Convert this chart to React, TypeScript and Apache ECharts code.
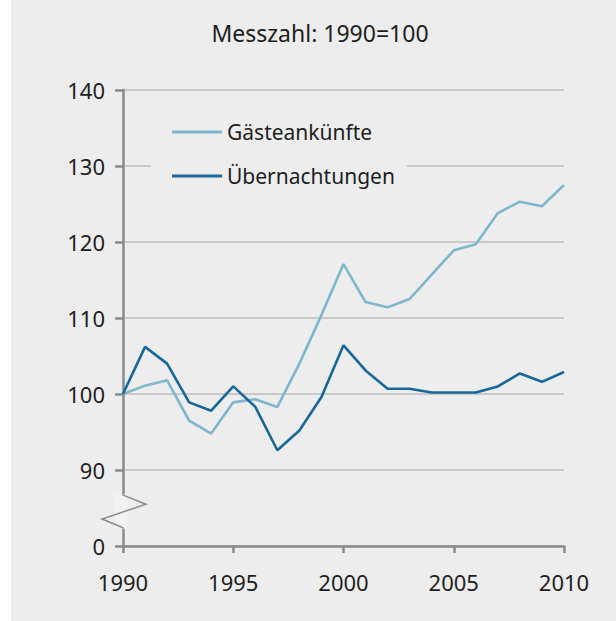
import React, { useEffect, useRef } from "react";
import * as echarts from "echarts";

const titleText = "Messzahl: 1990=100";
const years = [1990, 1991, 1992, 1993, 1994, 1995, 1996, 1997, 1998, 1999, 2000, 2001, 2002, 2003, 2004, 2005, 2006, 2007, 2008, 2009, 2010];
const gaeste = [100, 101.1, 101.8, 96.5, 94.8, 98.9, 99.3, 98.3, 104.0, 110.4, 117.1, 112.1, 111.4, 112.5, 115.7, 118.9, 119.7, 123.8, 125.3, 124.7, 127.5];
const uebern = [100, 106.2, 104.0, 98.9, 97.8, 101.0, 98.3, 92.6, 95.2, 99.6, 106.4, 103.1, 100.7, 100.7, 100.2, 100.2, 100.2, 101.0, 102.7, 101.6, 102.9];
const seriesNames = ["Gästeankünfte", "Übernachtungen"];
const yBaseValue = 80; // position where the broken axis shows "0"
const yBaseLabel = "0";

const BG = "#ecedec";
const FONT = "Noto Sans";
const TXT = "#1e1e1e";
const AXIS = "#8a8a8a";
const GRID = "#c9c9c9";

export default function App() {
  const ref = useRef<HTMLDivElement>(null);
  useEffect(() => {
    if (!ref.current) return;
    const chart = echarts.init(ref.current, undefined, { renderer: "svg" });
    const mk = (arr: number[]) => years.map((y, i) => [y, arr[i]]);
    chart.setOption({
      animation: false,
      backgroundColor: BG,
      textStyle: { fontFamily: FONT },
      title: {
        text: titleText,
        left: 309,
        textAlign: "center",
        top: 21,
        padding: 0,
        textStyle: { fontFamily: FONT, fontSize: 23, fontWeight: "normal", color: TXT },
      },
      grid: { left: 112, right: 52, top: 90, bottom: 75, containLabel: false },
      legend: {
        orient: "vertical",
        left: 161,
        top: 121,
        padding: 0,
        itemGap: 22,
        itemWidth: 50,
        itemHeight: 3,
        icon: "rect",
        z: 5,
        textStyle: { fontFamily: FONT, fontSize: 21, color: TXT, lineHeight: 22, padding: [0, 0, 0, 0] },
        data: seriesNames,
      },
      xAxis: {
        type: "value",
        min: 1990,
        max: 2010,
        interval: 5,
        axisLine: { show: true, lineStyle: { color: AXIS, width: 2.5 } },
        axisTick: { show: true, length: 7, lineStyle: { color: AXIS, width: 2.5 } },
        splitLine: { show: false },
        axisLabel: { formatter: (v: number) => String(v), fontFamily: FONT, fontSize: 22, color: TXT, margin: 25 },
      },
      yAxis: {
        type: "value",
        min: yBaseValue,
        max: 140,
        interval: 10,
        axisLine: { show: true, lineStyle: { color: AXIS, width: 2.5 } },
        axisTick: { show: true, length: 8, lineStyle: { color: AXIS, width: 2.5 } },
        splitLine: { show: true, lineStyle: { color: GRID, width: 2 } },
        axisLabel: {
          formatter: (v: number) => (v === yBaseValue ? yBaseLabel : String(v)),
          fontFamily: FONT,
          fontSize: 22,
          color: TXT,
          margin: 18,
        },
      },
      series: [
        {
          name: seriesNames[0],
          type: "line",
          data: mk(gaeste),
          showSymbol: false,
          symbol: "none",
          lineStyle: { color: "#7fb6cd", width: 2.6 },
          itemStyle: { color: "#7fb6cd" },
          z: 2,
        },
        {
          name: seriesNames[1],
          type: "line",
          data: mk(uebern),
          showSymbol: false,
          symbol: "none",
          lineStyle: { color: "#17689a", width: 2.6 },
          itemStyle: { color: "#17689a" },
          z: 3,
        },
      ],
    });

    const p = (x: number, y: number) => chart.convertToPixel({ gridIndex: 0 }, [x, y]) as number[];
    const top = p(1990, 86.7);
    const z1 = p(1990, 85.5);
    const z2 = p(1990, 83.55);
    const bot = p(1990, 82.4);
    const ax = top[0];
    const g130 = p(1990, 130);
    chart.setOption({
      graphic: [
        {
          type: "rect",
          z: 3,
          shape: { x: 140, y: g130[1] - 6, width: 256, height: 12 },
          style: { fill: BG },
        },
        {
          type: "rect",
          z: 100,
          shape: { x: ax - 8, y: top[1] - 1, width: 12, height: bot[1] - top[1] + 2 },
          style: { fill: "#f1f2f1" },
        },
        {
          type: "polyline",
          z: 101,
          shape: { points: [[ax, top[1] - 1], [ax, top[1]], [ax + 23, z1[1]], [ax - 21, z2[1]], [ax, bot[1]], [ax, bot[1] + 1]] },
          style: { stroke: AXIS, lineWidth: 1.5, fill: "none" },
        },
      ],
    });
    return () => chart.dispose();
  }, []);
  return <div ref={ref} style={{ position: "absolute", left: 11, top: 0, width: 605, height: 621 }} />;
}
